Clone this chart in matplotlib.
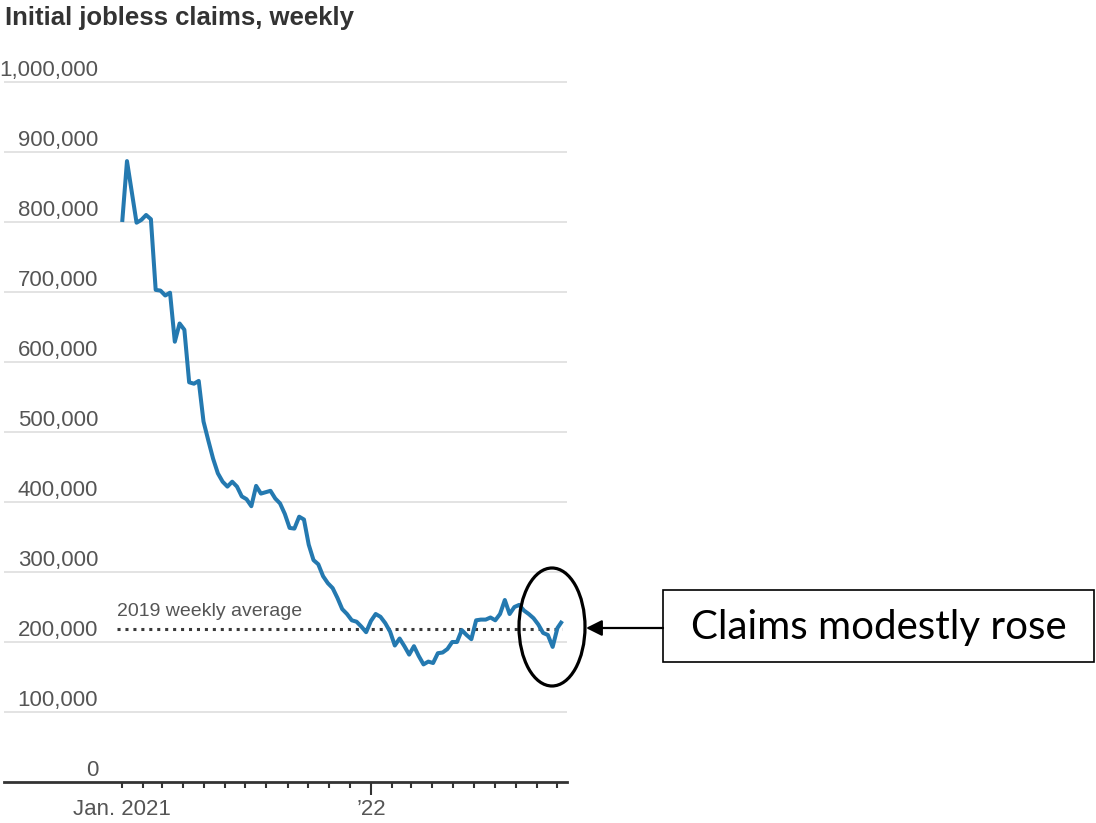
import numpy as np
import pandas as pd
import matplotlib
matplotlib.use("Agg")
import matplotlib.pyplot as plt
import matplotlib.dates as mdates
from matplotlib.patches import Ellipse, Rectangle, FancyArrowPatch
from matplotlib.transforms import offset_copy

plt.rcParams['font.family'] = ['Liberation Sans', 'DejaVu Sans']

# weekly initial claims, thousands, weeks ending Saturday from Jan. 2, 2021
claims_k = [
    800, 887, 843, 799, 803, 810, 804, 703, 702, 695,
    699, 629, 655, 646, 571, 569, 573, 515, 488, 462,
    441, 429, 422, 429, 422, 408, 404, 394, 423, 412,
    414, 416, 405, 398, 383, 363, 362, 379, 375, 339,
    317, 311, 294, 284, 277, 263, 247, 240, 231, 229,
    222, 214, 230, 240, 236, 227, 215, 195, 205, 194,
    182, 194, 180, 168, 172, 170, 184, 185, 190, 200,
    200, 217, 210, 204, 231, 232, 232, 235, 231, 240,
    260, 240, 250, 253, 245, 240, 234, 225, 213, 210,
    193, 220, 230,
]
first_week = '2021-01-02'
avg_2019 = 218000
avg_label = '2019 weekly average'

y_ticks = [0, 100000, 200000, 300000, 400000, 500000,
           600000, 700000, 800000, 900000, 1000000]
y_labels = ['{:,}'.format(v) for v in y_ticks]
x_ticks = ['2021-01-01', '2022-01-01']
x_labels = ['Jan. 2021', '\u201922']

weeks = pd.date_range(first_week, periods=len(claims_k), freq='W-SAT')
claims = np.array(claims_k) * 1000

W, H = 1096, 823
fig = plt.figure(figsize=(W / 100, H / 100), dpi=100)
ax = fig.add_axes([4 / W, 41 / H, 563 / W, 700 / H])
ax.set_xlim(pd.Timestamp('2020-07-13'), pd.Timestamp('2022-10-15'))
ax.set_ylim(0, 1000000)

# light horizontal gridlines with labels sitting just above them
ax.hlines(y_ticks[1:], 0, 1, transform=ax.get_yaxis_transform(),
          color='#e0e0e0', lw=1.3, zorder=0, clip_on=False)
lab_tr = offset_copy(ax.get_yaxis_transform(), fig=fig, y=6, units='dots')
for v, lab in zip(y_ticks, y_labels):
    ax.text(94 / 563, v, lab, transform=lab_tr, ha='right', va='baseline',
            fontsize=16, color='#555555')

ax.plot(weeks, claims, color='#2479b0', lw=2.9,
        solid_joinstyle='round', solid_capstyle='butt', zorder=3)

ax.plot([pd.Timestamp('2020-12-25'), pd.Timestamp('2022-10-08')],
        [avg_2019, avg_2019], color='#3a3a3a', lw=2.2,
        linestyle=(0, (1, 1.6)), dash_capstyle='butt', zorder=2)
ax.text(pd.Timestamp('2020-12-26'), avg_2019, avg_label,
        transform=offset_copy(ax.transData, fig=fig, y=13, units='dots'),
        fontsize=14, color='#555555', va='baseline')

# axis: monthly ticks, labels only at the start of each year
ax.set_yticks([])
for s in ['top', 'right', 'left']:
    ax.spines[s].set_visible(False)
ax.spines['bottom'].set_color('#333333')
ax.spines['bottom'].set_linewidth(2)
ax.set_xticks([pd.Timestamp(d) for d in x_ticks])
ax.set_xticklabels(x_labels)
months = pd.date_range('2021-02-01', '2022-10-01', freq='MS')
ax.set_xticks([d for d in months if d.month != 1], minor=True)
ax.tick_params(axis='x', which='both', direction='out', length=4, width=1.5,
               color='#333333', labelsize=16, labelcolor='#555555', pad=8)
ax.xaxis.get_major_ticks()[1].tick1line.set_markersize(9)

fig.text(5 / W, 1 - 25 / H, 'Initial jobless claims, weekly', fontsize=18.5,
         fontweight='bold', color='#333333', va='baseline')

# callout on the latest weeks
fig.add_artist(Ellipse((552 / W, 1 - 627 / H), 66 / W, 118 / H,
                       transform=fig.transFigure, fill=False, ec='black', lw=2.3))
fig.add_artist(Rectangle((663 / W, 1 - 662 / H), 431 / W, 72 / H,
                         transform=fig.transFigure, fill=False, ec='black', lw=1.2))
fig.add_artist(FancyArrowPatch((663 / W, 1 - 628 / H), (586 / W, 1 - 628 / H),
                               transform=fig.transFigure, arrowstyle='-|>',
                               mutation_scale=24, lw=1.6, color='black',
                               shrinkA=0, shrinkB=0))
fig.text(879 / W, 1 - 628 / H, 'Claims modestly rose', fontsize=29,
         family=['Lato', 'DejaVu Sans'], ha='center', va='center', color='black')

fig.savefig('out.png', dpi=100)
